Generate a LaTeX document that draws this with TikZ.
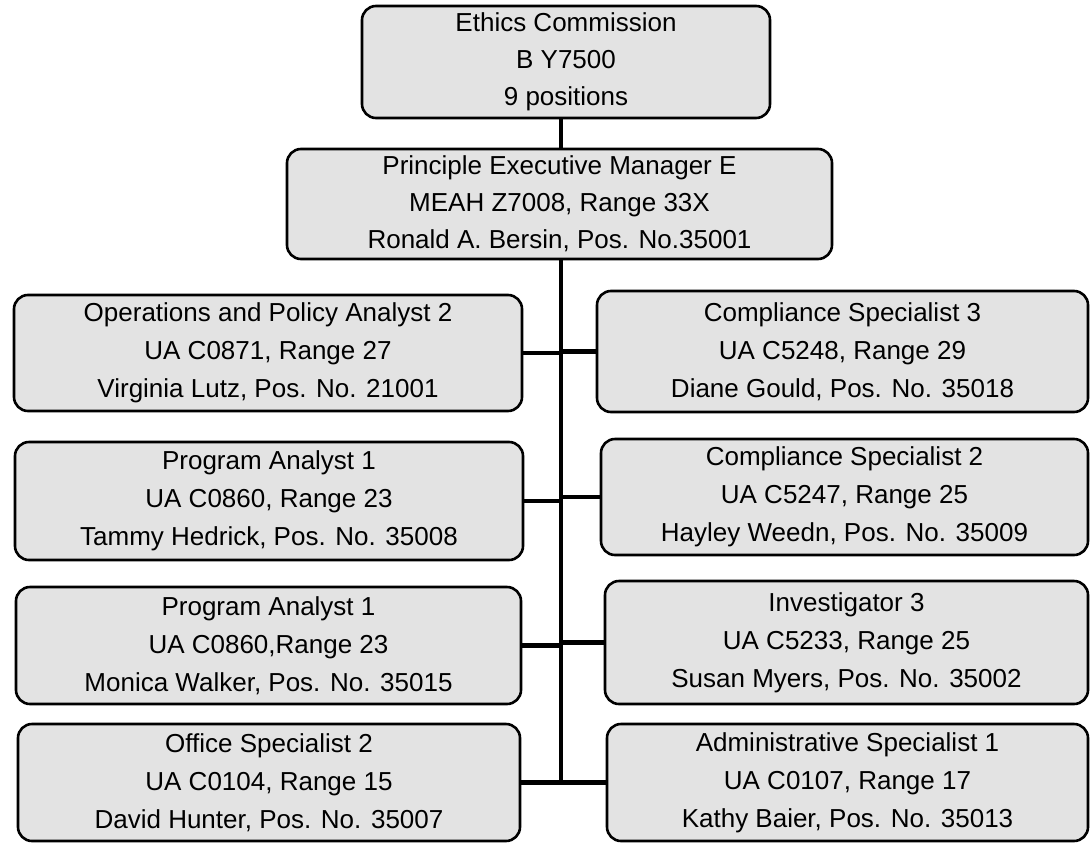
\documentclass[tikz,border=0pt]{standalone}
\usepackage{fontspec}
\setmainfont{Liberation Sans}
\begin{document}
\begin{tikzpicture}[x=1pt,y=-1pt,
  box/.style={draw=black, line width=2.6pt, rounded corners=14pt, fill=black!11,
    inner sep=0pt, align=center, font=\fontsize{26}{38}\selectfont},
  conn/.style={draw=black, line width=4.2pt}]
\useasboundingbox (0,0) rectangle (1091,843);
\node[box, minimum width=408pt, minimum height=112pt, font=\fontsize{26}{37}\selectfont] (ethics) at (566,62)
  {Ethics Commission\\B Y7500\\9 positions};
\node[box, minimum width=545pt, minimum height=110pt, font=\fontsize{26}{37}\selectfont] (pem) at (559.5,204)
  {Principle Executive Manager E\\MEAH Z7008, Range 33X\\Ronald A. Bersin, Pos. No.35001};
\node[box, minimum width=508pt, minimum height=116pt] (L1) at (268,353)
  {Operations and Policy Analyst 2\\UA C0871, Range 27\\Virginia Lutz, Pos. No. 21001};
\node[box, minimum width=508pt, minimum height=118pt] (L2) at (269,501)
  {Program Analyst 1\\UA C0860, Range 23\\Tammy Hedrick, Pos. No. 35008};
\node[box, minimum width=505pt, minimum height=117pt] (L3) at (268.5,645.5)
  {Program Analyst 1\\UA C0860,Range 23\\Monica Walker, Pos. No. 35015};
\node[box, minimum width=502pt, minimum height=117pt] (L4) at (269,782.5)
  {Office Specialist 2\\UA C0104, Range 15\\David Hunter, Pos. No. 35007};
\node[box, minimum width=491pt, minimum height=121pt] (R1) at (842.5,351.5)
  {Compliance Specialist 3\\UA C5248, Range 29\\Diane Gould, Pos. No. 35018};
\node[box, minimum width=487pt, minimum height=116pt] (R2) at (844.5,497)
  {Compliance Specialist 2\\UA C5247, Range 25\\Hayley Weedn, Pos. No. 35009};
\node[box, minimum width=483pt, minimum height=123pt] (R3) at (846.5,642.5)
  {Investigator 3\\UA C5233, Range 25\\Susan Myers, Pos. No. 35002};
\node[box, minimum width=481pt, minimum height=117pt] (R4) at (847.5,782.5)
  {Administrative Specialist 1\\UA C0107, Range 17\\Kathy Baier, Pos. No. 35013};
\coordinate (trunk) at (561,782);
\draw[conn] (ethics.south -| trunk) -- (pem.north -| trunk);
\draw[conn] (pem.south -| trunk) -- (trunk);
\foreach \n in {L1,L2,L3,L4} \draw[conn] (\n.east) -- (\n.east -| trunk);
\foreach \n in {R1,R2,R3,R4} \draw[conn] (\n.west) -- (\n.west -| trunk);
\end{tikzpicture}
\end{document}
